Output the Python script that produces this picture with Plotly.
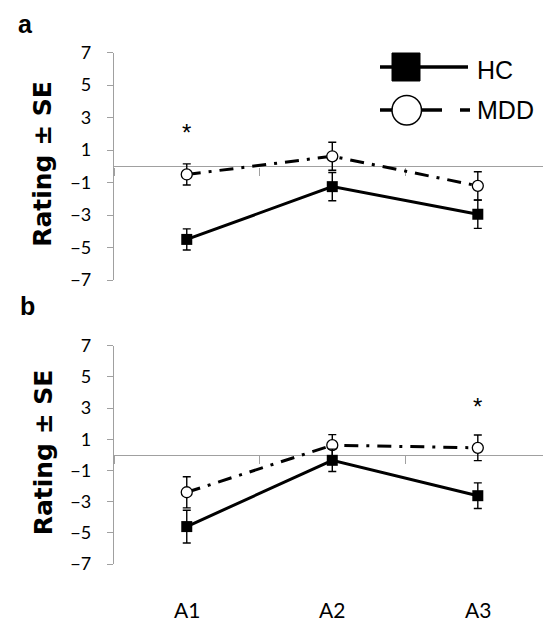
import plotly.graph_objects as go

# ---------------- data ----------------
categories = ["A1", "A2", "A3"]

hc_a = [-4.5, -1.25, -2.95]
hc_a_se = [0.65, 0.87, 0.87]
mdd_a = [-0.5, 0.62, -1.2]
mdd_a_se = [0.65, 0.86, 0.87]

hc_b = [-4.6, -0.35, -2.62]
hc_b_se = [1.05, 0.72, 0.82]
mdd_b = [-2.4, 0.62, 0.45]
mdd_b_se = [1.0, 0.68, 0.82]

y_ticks = [-7, -5, -3, -1, 1, 3, 5, 7]
series_names = ["HC", "MDD"]
star_a = ("A1", 2.1)
star_b = ("A3", 3.1)
panel_labels = ["a", "b"]
y_title = "Rating ± SE"

# ---------------- layout helpers ----------------
W, H = 543, 623
def px(x):
    return x / W
def py(y):
    return 1 - y / H

AX = "#A0A0A0"
TICKFONT = dict(family="Lato", size=18, color="black")

x_dom = [px(114), 1.0]
x_rng = [-0.5, 2.448]
y_dom_a = [py(280), py(52.7)]
y_dom_b = [py(564), py(345.7)]
zero_a = y_dom_a[0] + 0.5 * (y_dom_a[1] - y_dom_a[0])
zero_b = y_dom_b[0] + 0.5 * (y_dom_b[1] - y_dom_b[0])

fig = go.Figure()

def add_panel(hc, hc_se, mdd, mdd_se, xa, ya):
    fig.add_trace(go.Scatter(
        x=categories, y=mdd, name=series_names[1], xaxis=xa, yaxis=ya,
        mode="lines+markers",
        line=dict(color="black", width=3, dash="14px,8px,3px,8px"),
        marker=dict(symbol="circle", size=11, color="white",
                    line=dict(color="black", width=1.3)),
        error_y=dict(type="data", array=mdd_se, color="black", thickness=1.4, width=4),
        showlegend=False, cliponaxis=False, hoverinfo="skip"))
    fig.add_trace(go.Scatter(
        x=categories, y=hc, name=series_names[0], xaxis=xa, yaxis=ya,
        mode="lines+markers",
        line=dict(color="black", width=3),
        marker=dict(symbol="square", size=11, color="black"),
        error_y=dict(type="data", array=hc_se, color="black", thickness=1.4, width=4),
        showlegend=False, cliponaxis=False, hoverinfo="skip"))

add_panel(hc_a, hc_a_se, mdd_a, mdd_a_se, "x", "y")
add_panel(hc_b, hc_b_se, mdd_b, mdd_b_se, "x2", "y2")

xcommon = dict(domain=x_dom, range=x_rng, type="category", categoryarray=categories,
               anchor="free", showline=True, linecolor=AX, linewidth=1.3,
               ticks="outside", tickson="boundaries", ticklen=8, tickcolor=AX,
               tickwidth=1.3, showticklabels=False, showgrid=False, zeroline=False,
               layer="below traces", automargin=False)
ycommon = dict(range=[-7, 7], tickvals=y_ticks, showline=True, linecolor=AX,
               linewidth=1.3, ticks="outside", ticklen=6, tickcolor=AX, tickwidth=1.3,
               tickfont=TICKFONT, showgrid=False, zeroline=False,
               ticklabelstandoff=12, layer="below traces", automargin=False)

fig.update_layout(
    template="none",
    width=W, height=H,
    margin=dict(l=0, r=0, t=0, b=0, pad=0, autoexpand=False),
    paper_bgcolor="white", plot_bgcolor="white",
    xaxis=dict(xcommon, position=zero_a),
    xaxis2=dict(xcommon, position=zero_b),
    yaxis=dict(ycommon, domain=y_dom_a, anchor="x"),
    yaxis2=dict(ycommon, domain=y_dom_b, anchor="x2"),
    showlegend=False,
)

ann = []
# panel labels
for lab, (lx, ly) in zip(panel_labels, [(25, 24), (27, 306)]):
    ann.append(dict(text="<b>%s</b>" % lab, x=px(lx), y=py(ly), xref="paper", yref="paper",
                    showarrow=False, xanchor="center", yanchor="middle",
                    font=dict(family="Liberation Sans", size=25, color="black")))
# y titles
for z in [zero_a, zero_b]:
    ann.append(dict(text="<b>%s</b>" % y_title, x=px(43), y=z + 0.004, xref="paper", yref="paper",
                    textangle=-90, showarrow=False, xanchor="center", yanchor="middle",
                    font=dict(family="DejaVu Sans", size=25, color="black")))
# category labels
for c in categories:
    ann.append(dict(text=c, x=c, xref="x2", y=py(609), yref="paper", showarrow=False,
                    xanchor="center", yanchor="middle",
                    font=dict(family="Lato", size=21, color="black")))
# significance stars
for (sx, sy), xr, yr in [(star_a, "x", "y"), (star_b, "x2", "y2")]:
    ann.append(dict(text="*", x=sx, y=sy, xref=xr, yref=yr, showarrow=False,
                    xanchor="center", yanchor="middle",
                    font=dict(family="Liberation Sans", size=24, color="black")))
# legend text
for name, ly in zip(series_names, [70, 110]):
    ann.append(dict(text=name, x=px(475), y=py(ly), xref="paper", yref="paper",
                    showarrow=False, xanchor="left", yanchor="middle",
                    font=dict(family="Liberation Sans", size=25, color="black")))

shapes = []
# HC legend glyph
shapes.append(dict(type="line", xref="paper", yref="paper", x0=px(380), x1=px(468),
                   y0=py(67), y1=py(67), line=dict(color="black", width=3.5)))
shapes.append(dict(type="rect", xref="paper", yref="paper", x0=px(392), x1=px(420),
                   y0=py(81), y1=py(53), fillcolor="black", line=dict(color="black", width=1)))
# MDD legend glyph
shapes.append(dict(type="line", xref="paper", yref="paper", x0=px(380), x1=px(442),
                   y0=py(110), y1=py(110), line=dict(color="black", width=3.5)))
shapes.append(dict(type="line", xref="paper", yref="paper", x0=px(460), x1=px(470),
                   y0=py(110), y1=py(110), line=dict(color="black", width=3.5)))
shapes.append(dict(type="circle", xref="paper", yref="paper", x0=px(392), x1=px(421.5),
                   y0=py(125), y1=py(95.5), fillcolor="white", line=dict(color="black", width=1.5)))

fig.update_layout(annotations=ann, shapes=shapes)
fig.write_html("out.html", config={"displayModeBar": False},
               post_script="document.body.style.margin='0px';document.body.style.overflow='hidden';")
